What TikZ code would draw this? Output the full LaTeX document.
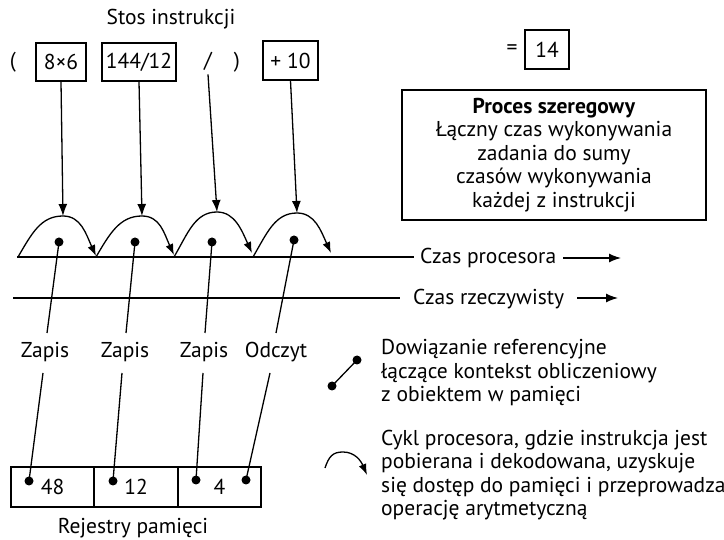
\documentclass[tikz,border=0pt]{standalone}
\usepackage{fontspec}
\setmainfont{PT Sans}
\usetikzlibrary{arrows.meta,calc}
\begin{document}
\begin{tikzpicture}[x=1pt,y=-1pt,
  every node/.style={font=\fontsize{21.5}{23.5}\selectfont, inner sep=2pt},
  ln/.style={line width=1.3pt},
  box/.style={draw, line width=1.3pt, minimum height=38pt, inner sep=0pt},
  tip/.style={ln, -{Latex[length=12pt,width=9pt]}},
  ctip/.style={ln, -{Latex[length=11pt,width=8pt]}},
  dot/.style={circle, fill, inner sep=0pt, minimum size=9pt},
  lbl/.style={anchor=base},
]
\useasboundingbox (0,0) rectangle (724,540);

% title
\node[lbl] (title) at (171,25) {Stos instrukcji};

% instruction stack
\node (lpar) at (13,62) {(};
\node[box, minimum width=50pt] (b1) at (61,62) {8×6};
\node[box, minimum width=74pt] (b2) at (139,62) {144/12};
\node (slash) at (208,61) {/};
\node (rpar) at (237,62) {)};
\node[box, minimum width=55pt, minimum height=39pt] (b4) at (290.5,60.5) {+ 10};

% result
\node (eq) at (512,50) {=};
\node[box, minimum width=44pt, minimum height=39pt] (res) at (547,49.5) {14};

% description box
\node[draw, line width=1.3pt, minimum width=304pt, minimum height=130pt, align=center, inner sep=0pt] (desc) at (554,155)
  {\textbf{Proces szeregowy}\\Łączny czas wykonywania\\zadania do sumy\\czasów wykonywania\\każdej z instrukcji};

% cycle arcs
\coordinate (s1) at (18,257);  \coordinate (p1) at (63,216);  \coordinate (e1) at (96,256);
\coordinate (s2) at (96,257);  \coordinate (p2) at (142,216); \coordinate (e2) at (174,255);
\coordinate (s3) at (174,257); \coordinate (p3) at (217,212); \coordinate (e3) at (252,253);
\coordinate (s4) at (253,257); \coordinate (p4) at (297,213); \coordinate (e4) at (331,253);

\foreach \i in {1,2,3,4}{
  \draw[ctip] (s\i) .. controls ($(s\i)+(14,-24)$) and ($(p\i)+(-22,0)$) .. (p\i)
     .. controls ($(p\i)+(18,0)$) and ($(e\i)+(-10,-22)$) .. (e\i);
}

% arrows from instructions
\draw[tip] (b1.south) -- (p1);
\draw[tip] (b2.south) -- (p2);
\draw[tip] ([yshift=-2pt]slash.south) -- (p3);
\draw[tip] (b4.south) -- (p4);

% time axes
\coordinate (t1a) at (17,257);
\node[anchor=base west, inner sep=0pt] (cp) at (420,264) {Czas procesora};
\draw[ln] (t1a) -- ([xshift=-6pt]cp.west |- t1a);
\coordinate (cpa) at (563,258); \coordinate (cpb) at (621,258);
\draw[tip] (cpa) -- (cpb);

\coordinate (t2a) at (13,298);
\node[anchor=base west, inner sep=0pt] (cr) at (413,305) {Czas rzeczywisty};
\draw[ln] (t2a) -- ([xshift=-13pt]cr.west |- t2a);
\coordinate (cra) at (577,298); \coordinate (crb) at (618,298);
\draw[tip] (cra) -- (crb);

% reference dots
\node[dot] (d1) at (59,242) {};
\node[dot] (d2) at (135,242) {};
\node[dot] (d3) at (212,242) {};
\node[dot] (d4) at (294,240) {};

% labels
\node[lbl] (z1) at (45,358) {Zapis};
\node[lbl] (z2) at (125,358) {Zapis};
\node[lbl] (z3) at (204,358) {Zapis};
\node[lbl] (z4) at (276,358) {Odczyt};

% registers
\node[draw, line width=1.3pt, minimum width=83pt, minimum height=40pt, inner sep=0pt] (r1) at (52.5,487) {48};
\node[draw, line width=1.3pt, minimum width=84pt, minimum height=40pt, inner sep=0pt] (r2) at (136,487) {12};
\node[draw, line width=1.3pt, minimum width=83pt, minimum height=40pt, inner sep=0pt] (r3) at (219.5,487) {4};
\node[lbl] (regname) at (133,533) {Rejestry pamięci};

\node[dot] (m1) at (29,481) {};
\node[dot] (m2) at (113,481) {};
\node[dot] (m3) at (196,480) {};
\node[dot] (m4) at (246,480) {};

% links
\coordinate (z1t) at (47,333); \coordinate (z2t) at (126,333); \coordinate (z3t) at (205,333); \coordinate (z4t) at (276,333);
\coordinate (z1b) at (43,373); \coordinate (z2b) at (122,373); \coordinate (z3b) at (203,373); \coordinate (z4b) at (270,373);
\foreach \i in {1,2,3,4}{
  \draw[ln] (d\i.center) -- (z\i t);
  \draw[ln] (z\i b) -- (m\i.center);
}

% legend: reference link
\node[dot] (la) at (332,386) {};
\node[dot] (lb) at (357,360) {};
\draw[ln] (la.center) -- (lb.center);
\node[anchor=base west, align=left, inner sep=0pt] (ltext1) at (381,402)
  {Dowiązanie referencyjne\\łączące kontekst obliczeniowy\\z obiektem w pamięci};

% legend: cycle
\coordinate (ca) at (325,468); \coordinate (cb) at (343,452); \coordinate (cc) at (367,475);
\draw[ctip] (ca) .. controls ($(ca)+(4,-12)$) and ($(cb)+(-10,0)$) .. (cb)
   .. controls ($(cb)+(12,0)$) and ($(cc)+(-6,-14)$) .. (cc);
\node[anchor=base west, align=left, inner sep=0pt] (ltext2) at (381,515.5)
  {Cykl procesora, gdzie instrukcja jest\\pobierana i dekodowana, uzyskuje\\się dostęp do pamięci i przeprowadza\\operację arytmetyczną};
\end{tikzpicture}
\end{document}
